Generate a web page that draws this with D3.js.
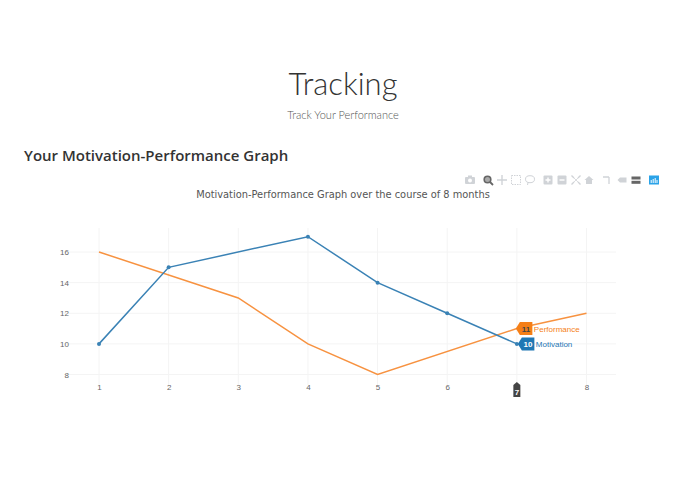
<!DOCTYPE html>
<html>
<head>
<meta charset="utf-8">
<script src="https://d3js.org/d3.v7.min.js"></script>
<style>
html, body { margin: 0; padding: 0; background: #fff; }
svg { display: block; }
</style>
</head>
<body>
<svg id="chart" width="695" height="494"></svg>
<script>
const months = [1, 2, 3, 4, 5, 6, 7, 8];
const yTicks = [8, 10, 12, 14, 16];
const motivationMonths = [1, 2, 4, 5, 6, 7];
const motivationValues = [10, 15, 17, 14, 12, 10];
const performanceMonths = [1, 3, 4, 5, 7, 8];
const performanceValues = [16, 13, 10, 8, 11, 12];
const hoverMonth = 7;

const blue = "#3a82b5", orange = "#f79240";

const svg = d3.select("#chart");
const x = d3.scaleLinear().domain([1, 8]).range([99, 586.5]);
const y = d3.scaleLinear().domain([8, 16]).range([374.5, 252]);
const plotLeft = 64, plotRight = 616, plotTop = 228, plotBottom = 385;

// page headings
svg.append("text").attr("x", 343).attr("y", 95).attr("text-anchor", "middle")
  .attr("font-family", "Lato").attr("font-weight", 300).attr("font-size", 31)
  .attr("fill", "#333").text("Tracking");
svg.append("text").attr("x", 343).attr("y", 118.5).attr("text-anchor", "middle")
  .attr("font-family", "Lato").attr("font-weight", 300).attr("font-size", 11)
  .attr("fill", "#555").text("Track Your Performance");
svg.append("text").attr("x", 24).attr("y", 161).attr("font-family", "Open Sans")
  .attr("font-weight", 600).attr("font-size", 15).attr("fill", "#333")
  .text("Your Motivation-Performance Graph");
svg.append("text").attr("x", 343).attr("y", 198).attr("text-anchor", "middle")
  .attr("font-family", "DejaVu Sans").attr("font-size", 9.85).attr("fill", "#555")
  .text("Motivation-Performance Graph over the course of 8 months");

// grid
svg.append("g").selectAll("line").data(months).enter().append("line")
  .attr("x1", d => x(d)).attr("x2", d => x(d))
  .attr("y1", plotTop).attr("y2", plotBottom)
  .attr("stroke", "#f4f4f4");
svg.append("g").selectAll("line").data(yTicks).enter().append("line")
  .attr("x1", plotLeft).attr("x2", plotRight)
  .attr("y1", d => y(d)).attr("y2", d => y(d))
  .attr("stroke", "#f4f4f4");

// axes
const xAxis = svg.append("g").attr("transform", "translate(0," + plotBottom + ")")
  .call(d3.axisBottom(x).tickValues(months.filter(d => d !== hoverMonth)).tickSize(0).tickPadding(-1).tickFormat(d3.format("d")));
const yAxis = svg.append("g").attr("transform", "translate(" + plotLeft + ",0)")
  .call(d3.axisLeft(y).tickValues(yTicks).tickSize(0).tickPadding(-5).tickFormat(d3.format("d")));
[xAxis, yAxis].forEach(a => {
  a.select(".domain").remove();
  a.selectAll("text").attr("font-family", "Liberation Sans").attr("font-size", 8).attr("fill", "#666");
});

// series
const line = d3.line().x(d => x(d[0])).y(d => y(d[1]));
svg.append("path").datum(d3.zip(performanceMonths, performanceValues))
  .attr("d", line).attr("fill", "none").attr("stroke", orange).attr("stroke-width", 1.5);
svg.append("path").datum(d3.zip(motivationMonths, motivationValues))
  .attr("d", line).attr("fill", "none").attr("stroke", blue).attr("stroke-width", 1.5);
svg.append("g").selectAll("circle").data(d3.zip(motivationMonths, motivationValues)).enter()
  .append("circle").attr("cx", d => x(d[0])).attr("cy", d => y(d[1])).attr("r", 2).attr("fill", blue);

// hover labels
function hoverLabel(value, name, fill, textFill, dx) {
  const px = x(hoverMonth), py = y(value);
  const g = svg.append("g").attr("transform", "translate(" + px + "," + py + ")");
  g.append("path")
    .attr("d", `M${dx - 4},0 L${dx},-6.5 H${dx + 12.5} V6.5 H${dx} Z`)
    .attr("fill", fill);
  g.append("text").attr("x", dx + 6.2).attr("y", 3).attr("text-anchor", "middle")
    .attr("font-family", "Liberation Sans").attr("font-weight", 700).attr("font-size", 8)
    .attr("fill", textFill).text(value);
  g.append("text").attr("x", dx + 14).attr("y", 3)
    .attr("font-family", "Liberation Sans").attr("font-size", 8)
    .attr("fill", fill).text(name);
}
hoverLabel(motivationValues[motivationMonths.indexOf(hoverMonth)], "Motivation", "#1f77b4", "#fff", 5);
hoverLabel(performanceValues[performanceMonths.indexOf(hoverMonth)], "Performance", "#f57f17", "#444", 3);

const xLabel = svg.append("g").attr("transform", "translate(" + x(hoverMonth) + "," + plotBottom + ")");
xLabel.append("path").attr("d", "M0,-3 L3.5,0 V12 H-3.5 V0 Z").attr("fill", "#444");
xLabel.append("text").attr("y", 9.5).attr("text-anchor", "middle")
  .attr("font-family", "Liberation Sans").attr("font-weight", 700).attr("font-size", 8)
  .attr("fill", "#fff").text(hoverMonth);

// plotly style toolbar
const bar = svg.append("g").attr("transform", "translate(0,180)");
const grey = "#d0d3d7";
function icon(cx) { return bar.append("g").attr("transform", "translate(" + cx + ",0)"); }
icon(470).call(g => {
  g.append("rect").attr("x", -5).attr("y", -3).attr("width", 10).attr("height", 7).attr("rx", 1).attr("fill", grey);
  g.append("rect").attr("x", -2).attr("y", -4.5).attr("width", 4).attr("height", 2).attr("fill", grey);
  g.append("circle").attr("r", 2).attr("cy", 0.5).attr("fill", "#fff");
});
icon(488).call(g => {
  g.append("circle").attr("cx", -0.5).attr("cy", -0.5).attr("r", 3.3).attr("fill", "#aaa").attr("stroke", "#666").attr("stroke-width", 1.6);
  g.append("line").attr("x1", 2).attr("y1", 2).attr("x2", 5).attr("y2", 5).attr("stroke", "#666").attr("stroke-width", 1.8);
});
icon(502).call(g => {
  g.append("path").attr("d", "M-5,0 H5 M0,-5 V5").attr("stroke", grey).attr("stroke-width", 1.4);
});
icon(516).call(g => {
  g.append("rect").attr("x", -4.5).attr("y", -4.5).attr("width", 9).attr("height", 9).attr("fill", "none")
    .attr("stroke", grey).attr("stroke-dasharray", "1.5,1");
});
icon(530).call(g => {
  g.append("ellipse").attr("rx", 4.5).attr("ry", 3.5).attr("cy", -0.8).attr("fill", "none").attr("stroke", grey);
  g.append("path").attr("d", "M-2,2.5 L-2.5,5").attr("stroke", grey);
});
[[548, true], [562, false]].forEach(([cx, plus]) => icon(cx).call(g => {
  g.append("rect").attr("x", -4.5).attr("y", -4.5).attr("width", 9).attr("height", 9).attr("rx", 1).attr("fill", grey);
  g.append("path").attr("d", plus ? "M-2.5,0 H2.5 M0,-2.5 V2.5" : "M-2.5,0 H2.5").attr("stroke", "#fff").attr("stroke-width", 1.4);
}));
icon(576).call(g => {
  g.append("path").attr("d", "M-4.5,-4.5 L-2,-2 M4.5,-4.5 L2,-2 M-4.5,4.5 L-2,2 M4.5,4.5 L2,2").attr("stroke", grey).attr("stroke-width", 1.4);
  g.append("path").attr("d", "M-2,-2 L2,2 M2,-2 L-2,2").attr("stroke", grey).attr("stroke-width", 0.8);
});
icon(589).call(g => {
  g.append("path").attr("d", "M-4.5,0 L0,-4 L4.5,0 H3 V4 H-3 V0 Z").attr("fill", grey);
});
icon(607).call(g => {
  g.append("path").attr("d", "M-4,-3 H2 M2,-3 V4").attr("stroke", grey).attr("stroke-width", 1.3).attr("fill", "none");
});
icon(622).call(g => {
  g.append("path").attr("d", "M-4.5,0 L-2,-2.5 H4.5 V2.5 H-2 Z").attr("fill", grey);
});
icon(636).call(g => {
  g.append("rect").attr("x", -4.5).attr("y", -3.5).attr("width", 9).attr("height", 3).attr("fill", "#666");
  g.append("rect").attr("x", -4.5).attr("y", 0.8).attr("width", 9).attr("height", 3).attr("fill", "#666");
});
icon(654).call(g => {
  g.append("rect").attr("x", -5).attr("y", -4.5).attr("width", 10).attr("height", 9).attr("fill", "#2ba3e8");
  g.append("path").attr("d", "M-2.8,3 V0 M-0.8,3 V-1 M1.2,3 V-2 M3,3 V0").attr("stroke", "#fff").attr("stroke-width", 1);
});
</script>
</body>
</html>
